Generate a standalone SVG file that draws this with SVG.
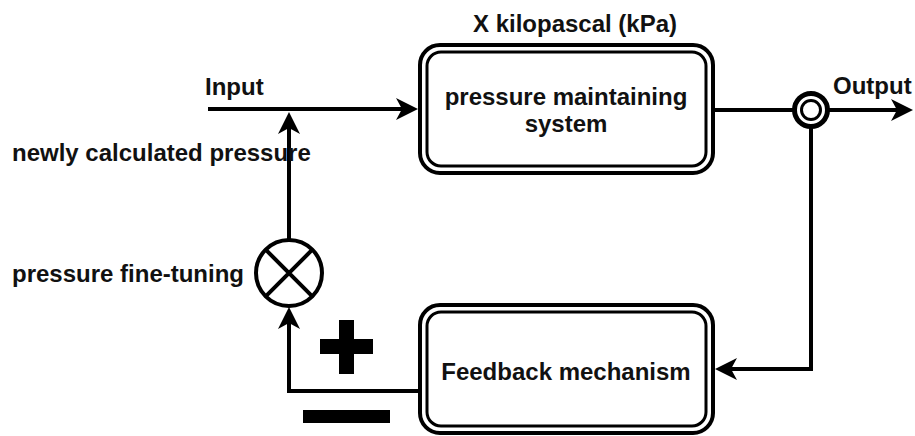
<svg xmlns="http://www.w3.org/2000/svg" width="915" height="436" viewBox="0 0 915 436">
<style>
text{font-family:"Liberation Sans",Arial,sans-serif;font-weight:bold;font-size:24px;fill:#111}
.box-o{fill:#fff;stroke:#000;stroke-width:4}
.box-i{fill:none;stroke:#000;stroke-width:3}
.conn{fill:none;stroke:#000;stroke-width:4}
</style>
<defs>
<marker id="arr" markerUnits="userSpaceOnUse" viewBox="0 -12 24 24" refX="12" refY="0" markerWidth="24" markerHeight="24" orient="auto">
<path d="M0,-11 L22,0 L0,11 L6,0 Z" fill="#000"/>
</marker>
</defs>
<text x="575" y="32" text-anchor="middle">X kilopascal (kPa)</text>
<g id="connectors">
<path class="conn" d="M208,109 H408" marker-end="url(#arr)"/>
<path class="conn" d="M289,239 V122" marker-end="url(#arr)"/>
<path class="conn" d="M715,110 H794"/>
<path class="conn" d="M828,110 H903" marker-end="url(#arr)"/>
<path class="conn" d="M811,127 V369 H725" marker-end="url(#arr)"/>
<path class="conn" d="M418,391 H289 V317" marker-end="url(#arr)"/>
</g>
<g id="input-label"><text x="205" y="95">Input</text></g>
<g id="output-label"><text x="833" y="94">Output</text></g>
<g id="newly-label"><text x="12" y="161">newly calculated pressure</text></g>
<g id="finetune-label"><text x="12" y="282">pressure fine-tuning</text></g>
<g id="pressure-system">
<rect class="box-o" x="420" y="45" width="293" height="128" rx="20"/>
<rect class="box-i" x="427" y="52" width="279" height="114" rx="14"/>
<text x="566" y="105" text-anchor="middle">pressure maintaining</text>
<text x="566" y="132" text-anchor="middle">system</text>
</g>
<g id="feedback">
<rect class="box-o" x="420" y="305" width="293" height="128" rx="20"/>
<rect class="box-i" x="427" y="312" width="279" height="114" rx="14"/>
<text x="566" y="380" text-anchor="middle">Feedback mechanism</text>
</g>
<g id="output-node">
<circle cx="811" cy="110" r="16.5" fill="#fff" stroke="#000" stroke-width="5"/>
<circle cx="811" cy="110" r="9.5" fill="#fff" stroke="#000" stroke-width="3"/>
</g>
<g id="sum-junction">
<circle cx="289" cy="273" r="33" fill="#fff" stroke="#000" stroke-width="4"/>
<path d="M265.7,249.7 L312.3,296.3 M312.3,249.7 L265.7,296.3" stroke="#000" stroke-width="4"/>
</g>
<g id="plus">
<rect x="320" y="339" width="53" height="15" fill="#000"/>
<rect x="339" y="320" width="15" height="54" fill="#000"/>
</g>
<g id="minus">
<rect x="303" y="410" width="87" height="13" fill="#000"/>
</g>
</svg>
